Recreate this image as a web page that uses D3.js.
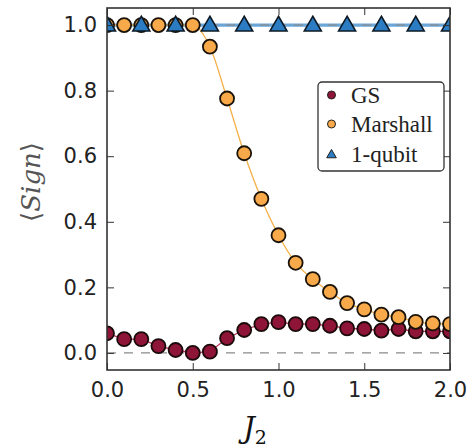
<!DOCTYPE html>
<html>
<head>
<meta charset="utf-8">
<script src="https://cdn.jsdelivr.net/npm/d3@7"></script>
<style>
  html, body { margin: 0; padding: 0; background: #fff; }
  svg { display: block; }
</style>
</head>
<body>
<svg id="chart" width="470" height="448"></svg>
<script>
// J2 grid for the dense series
const j2 = [0.0, 0.1, 0.2, 0.3, 0.4, 0.5, 0.6, 0.7, 0.8, 0.9, 1.0,
            1.1, 1.2, 1.3, 1.4, 1.5, 1.6, 1.7, 1.8, 1.9, 2.0];
const gsSign = [0.060, 0.042, 0.042, 0.021, 0.009, 0.000, 0.004, 0.045, 0.070, 0.088, 0.094,
                0.088, 0.088, 0.083, 0.075, 0.073, 0.068, 0.073, 0.066, 0.066, 0.066];
const marshallSign = [1.0, 1.0, 1.0, 1.0, 1.0, 1.0, 0.934, 0.776, 0.609, 0.470, 0.359,
                      0.275, 0.225, 0.186, 0.152, 0.133, 0.117, 0.109, 0.095, 0.090, 0.088];
// J2 grid for the 1-qubit series
const j2Qubit = [0.0, 0.2, 0.4, 0.6, 0.8, 1.0, 1.2, 1.4, 1.6, 1.8, 2.0];
const qubitSign = [1.0, 1.0, 1.0, 1.0, 1.0, 1.0, 1.0, 1.0, 1.0, 1.0, 1.0];

const xTicks = [0.0, 0.5, 1.0, 1.5, 2.0];
const yTicks = [0.0, 0.2, 0.4, 0.6, 0.8, 1.0];
const refLines = [0.0, 1.0];
const seriesNames = ["GS", "Marshall", "1-qubit"];

const svg = d3.select("#chart");
const plot = { left: 107, right: 450, top: 8, bottom: 370 };

const x = d3.scaleLinear().domain([0, 2]).range([plot.left, plot.right]);
const y = d3.scaleLinear().domain([-0.052, 1.052]).range([plot.bottom, plot.top]);

const colGS = "#8e1438", colGSLine = "#b8345a";
const colM = "#f8aa4a", colMLine = "#f5b04a";
const colQ = "#2b7cc2", colQLine = "#6aa6d8";

const clip = svg.append("clipPath").attr("id", "clip")
  .append("rect")
  .attr("x", plot.left).attr("y", plot.top)
  .attr("width", plot.right - plot.left).attr("height", plot.bottom - plot.top);

const g = svg.append("g").attr("clip-path", "url(#clip)");

// 1-qubit line (thick, light blue)
g.append("path")
  .datum(j2Qubit.map((d, i) => [d, qubitSign[i]]))
  .attr("fill", "none")
  .attr("stroke", colQLine)
  .attr("stroke-width", 3.2)
  .attr("d", d3.line().x(d => x(d[0])).y(d => y(d[1])));

// dashed reference lines
g.selectAll("line.ref").data(refLines).join("line")
  .attr("class", "ref")
  .attr("x1", plot.left).attr("x2", plot.right)
  .attr("y1", d => y(d)).attr("y2", d => y(d))
  .attr("stroke", "#8a8a8a").attr("stroke-width", 1.3)
  .attr("stroke-dasharray", "9,8");

// GS line and markers
g.append("path")
  .datum(j2.map((d, i) => [d, gsSign[i]]))
  .attr("fill", "none").attr("stroke", colGSLine).attr("stroke-width", 1.3)
  .attr("d", d3.line().x(d => x(d[0])).y(d => y(d[1])));
g.selectAll("circle.gs").data(j2.map((d, i) => [d, gsSign[i]])).join("circle")
  .attr("class", "gs")
  .attr("cx", d => x(d[0])).attr("cy", d => y(d[1])).attr("r", 7)
  .attr("fill", colGS).attr("stroke", "#1a0a0a").attr("stroke-width", 1.8);

// Marshall line and markers
g.append("path")
  .datum(j2.map((d, i) => [d, marshallSign[i]]))
  .attr("fill", "none").attr("stroke", colMLine).attr("stroke-width", 1.3)
  .attr("d", d3.line().curve(d3.curveMonotoneX).x(d => x(d[0])).y(d => y(d[1])));
g.selectAll("circle.m").data(j2.map((d, i) => [d, marshallSign[i]])).join("circle")
  .attr("class", "m")
  .attr("cx", d => x(d[0])).attr("cy", d => y(d[1])).attr("r", 7)
  .attr("fill", colM).attr("stroke", "#1a1208").attr("stroke-width", 1.8);

// 1-qubit triangles
const tri = d3.symbol().type(d3.symbolTriangle).size(125);
g.selectAll("path.q").data(j2Qubit.map((d, i) => [d, qubitSign[i]])).join("path")
  .attr("class", "q")
  .attr("transform", d => `translate(${x(d[0])},${y(d[1]) + 1})`)
  .attr("d", tri)
  .attr("fill", colQ).attr("stroke", "#0d1a26").attr("stroke-width", 1.6)
  .attr("stroke-linejoin", "miter");

// axes: ticks on all four sides, pointing inwards
const tickLen = 7;
const axisColor = "#333";
svg.append("g").attr("transform", `translate(0,${plot.bottom})`)
  .call(d3.axisBottom(x).tickValues(xTicks).tickSize(-tickLen).tickFormat(d3.format(".1f")).tickPadding(12))
  .call(a => a.select(".domain").remove());
svg.append("g").attr("transform", `translate(0,${plot.top})`)
  .call(d3.axisTop(x).tickValues(xTicks).tickSize(-tickLen).tickFormat(""))
  .call(a => a.select(".domain").remove());
svg.append("g").attr("transform", `translate(${plot.left},0)`)
  .call(d3.axisLeft(y).tickValues(yTicks).tickSize(-tickLen).tickFormat(d3.format(".1f")).tickPadding(10))
  .call(a => a.select(".domain").remove());
svg.append("g").attr("transform", `translate(${plot.right},0)`)
  .call(d3.axisRight(y).tickValues(yTicks).tickSize(-tickLen).tickFormat(""))
  .call(a => a.select(".domain").remove());

svg.selectAll(".tick line").attr("stroke", axisColor).attr("stroke-width", 1);
svg.selectAll(".tick text")
  .attr("font-family", "DejaVu Sans").attr("font-size", 21).attr("fill", "#222");

// frame
svg.append("rect")
  .attr("x", plot.left).attr("y", plot.top)
  .attr("width", plot.right - plot.left).attr("height", plot.bottom - plot.top)
  .attr("fill", "none").attr("stroke", axisColor).attr("stroke-width", 1.6);

// axis titles
const xl = svg.append("text")
  .attr("x", 255).attr("y", 438).attr("text-anchor", "middle")
  .attr("font-family", "DejaVu Serif").attr("fill", "#111");
xl.append("tspan").attr("font-style", "italic").attr("font-size", 29).text("J");
xl.append("tspan").attr("font-size", 19).attr("dy", 6).text("2");

const yl = svg.append("text")
  .attr("transform", "translate(40,182) rotate(-90)")
  .attr("text-anchor", "middle")
  .attr("font-family", "DejaVu Serif").attr("font-size", 26).attr("fill", "#555");
yl.append("tspan").text("\u27E8");
yl.append("tspan").attr("font-style", "italic").text("Sign");
yl.append("tspan").text("\u27E9");

// legend
const leg = svg.append("g");
leg.append("rect")
  .attr("x", 318).attr("y", 82).attr("width", 126).attr("height", 89)
  .attr("rx", 4).attr("fill", "#fff").attr("stroke", "#333").attr("stroke-width", 1.3);
const legRows = [
  { name: seriesNames[0], fill: colGS, shape: "circle" },
  { name: seriesNames[1], fill: colM, shape: "circle" },
  { name: seriesNames[2], fill: colQ, shape: "triangle" }
];
const legY = [95, 124, 154];
legRows.forEach((r, i) => {
  const cy = legY[i];
  if (r.shape === "circle") {
    leg.append("circle").attr("cx", 331.5).attr("cy", cy).attr("r", 4)
      .attr("fill", r.fill).attr("stroke", "#222").attr("stroke-width", 1);
  } else {
    leg.append("path").attr("transform", `translate(331.5,${cy + 1})`)
      .attr("d", d3.symbol().type(d3.symbolTriangle).size(40))
      .attr("fill", r.fill).attr("stroke", "#222").attr("stroke-width", 1);
  }
  leg.append("text").attr("x", 351).attr("y", cy + 8)
    .attr("font-family", "Liberation Serif").attr("font-size", 23).attr("fill", "#222")
    .text(r.name);
});
</script>
</body>
</html>
